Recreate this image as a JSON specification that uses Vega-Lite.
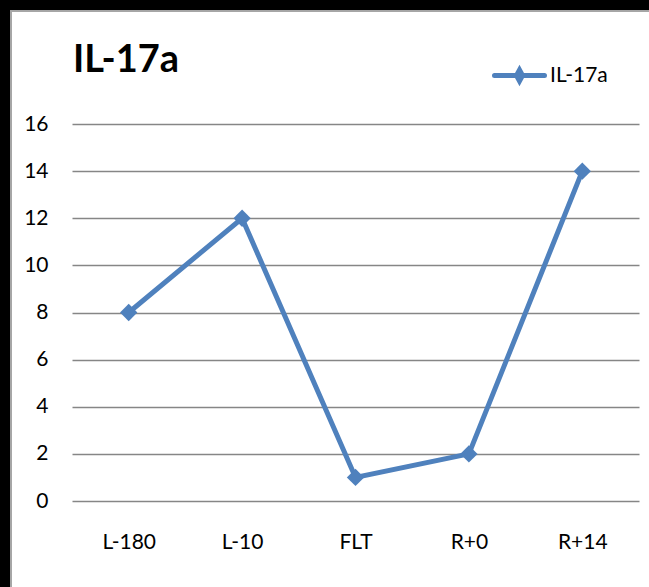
{
  "$schema": "https://vega.github.io/schema/vega-lite/v6.json",
  "width": 640,
  "height": 578,
  "autosize": "none",
  "padding": {"left": 11, "top": 11, "right": 0, "bottom": 0},
  "background": "#000000",
  "config": {
    "view": {"fill": "white", "stroke": "#a6a6a6", "strokeWidth": 2},
    "font": "Lato"
  },
  "title": {
    "text": "IL-17a",
    "anchor": "start",
    "frame": "group",
    "orient": "top",
    "offset": 0,
    "dx": 62,
    "dy": 99,
    "baseline": "alphabetic",
    "fontSize": 38,
    "fontWeight": "bold",
    "font": "Lato",
    "color": "black"
  },
  "data": {
    "values": [
      {"time": "L-180", "value": 8, "series": "IL-17a"},
      {"time": "L-10", "value": 12, "series": "IL-17a"},
      {"time": "FLT", "value": 1, "series": "IL-17a"},
      {"time": "R+0", "value": 2, "series": "IL-17a"},
      {"time": "R+14", "value": 14, "series": "IL-17a"}
    ]
  },
  "mark": {
    "type": "line",
    "strokeWidth": 5,
    "point": {"shape": "diamond", "filled": true, "size": 300}
  },
  "encoding": {
    "x": {
      "field": "time",
      "type": "ordinal",
      "sort": null,
      "scale": {"type": "point", "padding": 0.5, "range": [61, 628]},
      "axis": {
        "title": null,
        "grid": false,
        "domain": false,
        "ticks": false,
        "labelAngle": 0,
        "labelFontSize": 21,
        "labelColor": "black",
        "labelPadding": 0,
        "labelBaseline": "alphabetic",
        "offset": -41
      }
    },
    "y": {
      "field": "value",
      "type": "quantitative",
      "scale": {"domain": [0, 16], "range": [490, 113], "nice": false},
      "axis": {
        "title": null,
        "values": [0, 2, 4, 6, 8, 10, 12, 14, 16],
        "domain": false,
        "ticks": false,
        "labelPadding": 0,
        "offset": -37,
        "grid": true,
        "gridColor": "#868686",
        "gridWidth": 1.5,
        "labelFontSize": 21,
        "labelColor": "black"
      }
    },
    "color": {
      "field": "series",
      "type": "nominal",
      "scale": {"range": ["#4f81bd"]},
      "legend": {
        "title": null,
        "orient": "none",
        "legendX": 481,
        "legendY": 37,
        "padding": 0,
        "symbolType": "M-1,0L1,0M0,-0.22L0.12,0L0,0.22L-0.12,0Z",
        "symbolSize": 2500,
        "symbolStrokeWidth": 5,
        "symbolFillColor": "#4f81bd",
        "symbolStrokeColor": "#4f81bd",
        "labelFontSize": 21,
        "labelColor": "black",
        "labelOffset": 3,
        "encode": {
          "symbols": {
            "update": {
              "fill": {"value": "#4f81bd"},
              "stroke": {"value": "#4f81bd"},
              "strokeWidth": {"value": 5},
              "strokeCap": {"value": "round"}
            }
          }
        }
      }
    }
  }
}
